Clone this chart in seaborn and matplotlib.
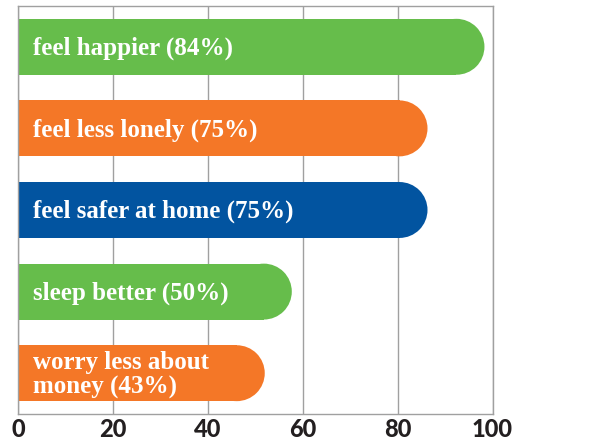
import matplotlib
matplotlib.use('Agg')
import matplotlib.pyplot as plt
import pandas as pd
import seaborn as sns
from matplotlib.patches import Ellipse

# bar labels and the percentages printed inside them
labels = ["feel happier", "feel less lonely", "feel safer at home",
          "sleep better", "worry less about\nmoney"]
percent = [84, 75, 75, 50, 43]
# drawn bar extent (the original is not drawn to scale)
bar_length = [98.3, 86.3, 86.3, 57.7, 52.0]
colors = ["#66BD4B", "#F47727", "#0254A0", "#66BD4B", "#F47727"]
xticks = [0, 20, 40, 60, 80, 100]

sns.set_style("white")
fig, ax = plt.subplots(figsize=(5.98, 4.4), dpi=100)
fig.subplots_adjust(left=0.0301, right=0.8236, bottom=0.0591, top=0.9864)

bar_h = 0.685
ax.set_xlim(0, 100)
ax.set_ylim(4.5, -0.5)

# radius of the round cap in x units so it comes out as a semicircle
ax_w = fig.get_figwidth() * fig.dpi * (0.8236 - 0.0301)
ax_h = fig.get_figheight() * fig.dpi * (0.9864 - 0.0591)
r_px = bar_h / 5 * ax_h / 2
r_x = r_px / ax_w * 100

df = pd.DataFrame({"label": labels, "rect": [l - r_x for l in bar_length]})
sns.barplot(data=df, x="rect", y="label", hue="label", palette=colors,
            width=bar_h, saturation=1, legend=False, ax=ax, linewidth=0)

for i, (l, c) in enumerate(zip(df["rect"], colors)):
    ax.add_patch(Ellipse((l, i), 2 * r_x, bar_h, color=c, lw=0, zorder=2))
    ax.text(3.2, i + 0.02, f"{labels[i]} ({percent[i]}%)", va="center",
            ha="left", color="white", fontsize=18, fontweight="bold",
            family="Liberation Serif", linespacing=1.1, zorder=3)

ax.set_xlim(0, 100)
ax.set_ylim(4.5, -0.5)
ax.set_xticks(xticks)
ax.set_yticks([])
ax.set_xlabel("")
ax.set_ylabel("")
ax.set_axisbelow(True)
ax.grid(axis="x", color="#A0A0A0", lw=1)
for s in ax.spines.values():
    s.set_visible(True)
    s.set_color("#A0A0A0")
    s.set_linewidth(1)
ax.tick_params(axis="x", length=0, pad=3, labelsize=17)
for t in ax.get_xticklabels():
    t.set_family("Lato")
    t.set_fontweight("black")
    t.set_color("#231F20")

fig.savefig("out.png", dpi=100)
